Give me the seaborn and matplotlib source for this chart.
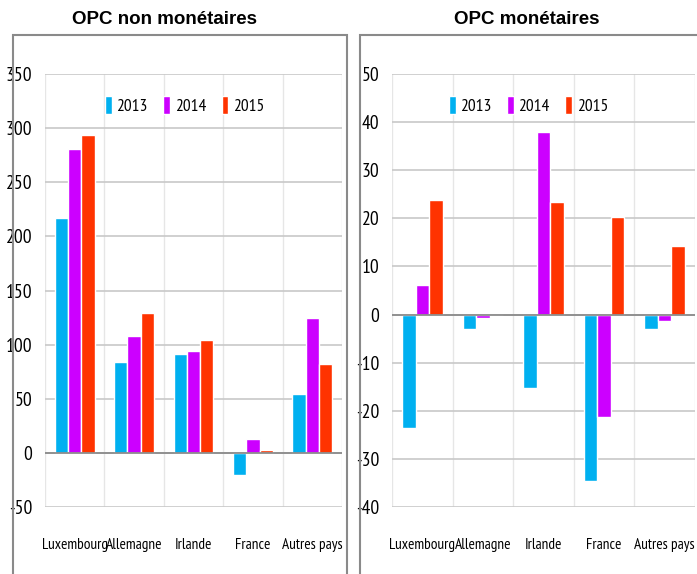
import numpy as np
import pandas as pd
import matplotlib
matplotlib.use("Agg")
import matplotlib.pyplot as plt
from matplotlib.patches import Rectangle
import seaborn as sns

# ── Data ──────────────────────────────
countries = ["Luxembourg", "Allemagne", "Irlande", "France", "Autres pays"]
years = ["2013", "2014", "2015"]

non_mon_2013 = [217, 84, 91, -20, 54]
non_mon_2014 = [281, 108, 94, 13, 125]
non_mon_2015 = [294, 129, 104, 3, 82]

mon_2013 = [-23.6, -3.0, -15.2, -34.6, -3.0]
mon_2014 = [6.2, -0.8, 37.9, -21.3, -1.4]
mon_2015 = [23.9, 0.0, 23.4, 20.3, 14.2]

palette = {"2013": "#00B0F0", "2014": "#CC00FF", "2015": "#FF3300"}

non_mon_ticks = np.arange(-50, 351, 50)
mon_ticks = np.arange(-40, 51, 10)


def to_long(v13, v14, v15):
    rows = []
    for yr, vals in zip(years, [v13, v14, v15]):
        for c, v in zip(countries, vals):
            rows.append({"Pays": c, "Année": yr, "Valeur": v})
    return pd.DataFrame(rows)


sns.set_style("white")
plt.rcParams["text.color"] = "black"
plt.rcParams["xtick.color"] = "black"
plt.rcParams["ytick.color"] = "black"
label_font = "PT Sans Narrow"
title_font = "Liberation Sans"

fig = plt.figure(figsize=(6.97, 5.74), dpi=100)

# outer frames
fig.add_artist(Rectangle((13 / 697, -0.05), 334 / 697, 1.05 - 35 / 574,
                         transform=fig.transFigure, fill=False,
                         edgecolor="#8a8a8a", lw=1.5))
fig.add_artist(Rectangle((360 / 697, -0.05), 345 / 697, 1.05 - 35 / 574,
                         transform=fig.transFigure, fill=False,
                         edgecolor="#8a8a8a", lw=1.5))

ax1 = fig.add_axes([45 / 697, 1 - 507 / 574, 297 / 697, 433 / 574])
ax2 = fig.add_axes([392 / 697, 1 - 507 / 574, 303 / 697, 433 / 574])

panels = [
    (ax1, to_long(non_mon_2013, non_mon_2014, non_mon_2015), non_mon_ticks,
     "OPC non monétaires", 165, 0.47),
    (ax2, to_long(mon_2013, mon_2014, mon_2015), mon_ticks,
     "OPC monétaires", 527, 0.45),
]

for ax, df, ticks, title, title_x, leg_x in panels:
    sns.barplot(data=df, x="Pays", y="Valeur", hue="Année", palette=palette,
                width=0.67, saturation=1, ax=ax, legend=True)
    ax.set_xlim(-0.5, 4.5)
    ax.set_ylim(ticks[0], ticks[-1])
    ax.set_yticks(ticks)
    ax.set_yticklabels([str(t) for t in ticks], fontfamily=label_font, fontsize=14)
    ax.set_xticks(range(len(countries)))
    ax.set_xticklabels(countries, fontfamily=label_font, fontsize=11)
    ax.set_xticks(np.arange(-0.5, 5, 1), minor=True)
    ax.tick_params(axis="both", which="both", length=0)
    ax.tick_params(axis="y", pad=9)
    ax.tick_params(axis="x", pad=22)
    ax.set_xlabel("")
    ax.set_ylabel("")
    for s in ax.spines.values():
        s.set_visible(False)
    ax.grid(axis="y", which="major", color="#c8c8c8", lw=1.2)
    ax.grid(axis="x", which="minor", color="#e6e6e6", lw=1.0)
    ax.grid(axis="x", which="major", visible=False)
    ax.set_axisbelow(True)
    ax.axhline(0, color="#8c8c8c", lw=1.3, zorder=3)

    leg = ax.legend(loc="center", bbox_to_anchor=(leg_x, 0.928), ncol=3,
                    frameon=False, handlelength=0.4, handleheight=1.3,
                    handletextpad=0.25, columnspacing=0.9,
                    prop={"family": label_font, "size": 12.5})
    fig.text(title_x / 697, 1 - 20 / 574, title, ha="center", va="center",
             fontfamily=title_font, fontweight="bold", fontsize=13.5)

fig.savefig("out.png", dpi=100)
